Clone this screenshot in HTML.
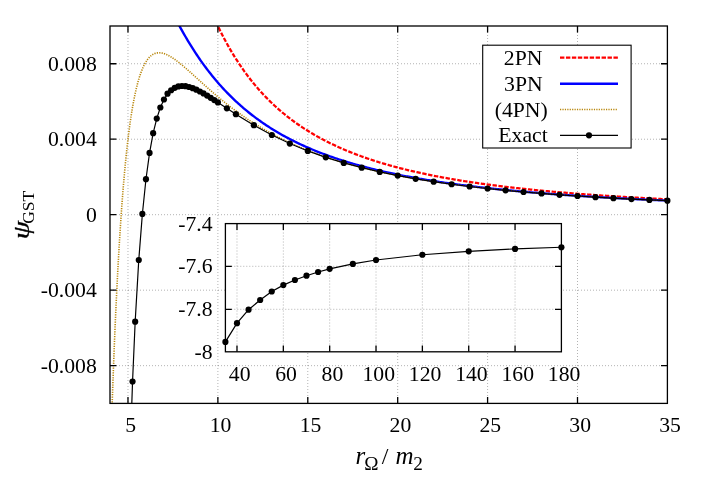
<!DOCTYPE html>
<html><head><meta charset="utf-8"><title>plot</title>
<style>html,body{margin:0;padding:0;background:#fff}body{width:706px;height:494px;overflow:hidden;position:relative;font-family:"Liberation Serif",serif}</style></head>
<body>
<svg width="706" height="494" viewBox="0 0 706 494" style="position:absolute;left:0;top:0;will-change:transform">
<defs><clipPath id="cm"><rect x="110.00" y="26.00" width="557.40" height="377.40"/></clipPath></defs>
<rect width="706" height="494" fill="#fff"/>
<path d="M127.98 26.00 V403.40 M217.88 26.00 V403.40 M307.79 26.00 V403.40 M397.69 26.00 V403.40 M487.59 26.00 V403.40 M577.50 26.00 V403.40 M110.00 365.66 H667.40 M110.00 290.18 H667.40 M110.00 214.70 H667.40 M110.00 139.22 H667.40 M110.00 63.74 H667.40" stroke="#000" stroke-width="0.36" stroke-dasharray="0.85 2.15" fill="none"/>
<rect x="482.70" y="45.20" width="148.40" height="102.80" fill="#fff"/>
<rect x="225.40" y="223.60" width="336.00" height="128.20" fill="#fff"/>
<path d="M236.99 223.60 V351.80 M283.33 223.60 V351.80 M329.68 223.60 V351.80 M376.02 223.60 V351.80 M422.37 223.60 V351.80 M468.71 223.60 V351.80 M515.06 223.60 V351.80 M225.40 266.30 H561.40 M225.40 309.30 H561.40" stroke="#000" stroke-width="0.36" stroke-dasharray="0.85 2.15" fill="none"/>
<g clip-path="url(#cm)" fill="none">
<path d="M208.89 5.61 L210.04 8.40 L211.19 11.13 L212.34 13.80 L213.49 16.43 L214.64 19.00 L215.79 21.52 L216.94 24.00 L218.09 26.42 L219.24 28.81 L220.38 31.14 L221.53 33.43 L222.68 35.68 L223.83 37.89 L224.98 40.06 L226.13 42.19 L227.28 44.28 L228.43 46.33 L229.58 48.34 L230.73 50.32 L231.88 52.26 L233.03 54.17 L234.17 56.05 L235.32 57.89 L236.47 59.70 L237.62 61.48 L238.77 63.23 L239.92 64.95 L241.07 66.64 L242.22 68.31 L243.37 69.94 L244.52 71.55 L245.67 73.13 L246.82 74.68 L247.96 76.21 L249.11 77.72 L250.26 79.20 L251.41 80.65 L252.56 82.08 L253.71 83.49 L254.86 84.88 L256.01 86.25 L257.16 87.59 L258.31 88.91 L259.46 90.22 L260.60 91.50 L261.75 92.76 L262.90 94.00 L264.05 95.23 L265.20 96.43 L266.35 97.62 L267.50 98.79 L268.65 99.94 L269.80 101.08 L270.95 102.20 L272.10 103.30 L273.25 104.39 L274.39 105.46 L275.54 106.51 L276.69 107.55 L277.84 108.58 L278.99 109.59 L280.14 110.58 L281.29 111.56 L282.44 112.53 L283.59 113.49 L284.74 114.43 L285.89 115.35 L287.03 116.27 L288.18 117.17 L289.33 118.06 L290.48 118.94 L291.63 119.81 L292.78 120.66 L293.93 121.50 L295.08 122.33 L296.23 123.15 L297.38 123.96 L298.53 124.76 L299.68 125.55 L300.82 126.33 L301.97 127.10 L303.12 127.86 L304.27 128.60 L305.42 129.34 L306.57 130.07 L307.72 130.79 L308.87 131.50 L310.02 132.20 L311.17 132.90 L312.32 133.58 L313.47 134.26 L314.61 134.92 L315.76 135.58 L316.91 136.23 L318.06 136.88 L319.21 137.51 L320.36 138.14 L321.51 138.76 L322.66 139.37 L323.81 139.97 L324.96 140.57 L326.11 141.16 L327.25 141.75 L328.40 142.32 L329.55 142.89 L330.70 143.45 L331.85 144.01 L333.00 144.56 L334.15 145.10 L335.30 145.64 L336.45 146.17 L337.60 146.70 L338.75 147.22 L339.90 147.73 L341.04 148.24 L342.19 148.74 L343.34 149.23 L344.49 149.72 L345.64 150.21 L346.79 150.69 L347.94 151.16 L349.09 151.63 L350.24 152.09 L351.39 152.55 L352.54 153.00 L353.69 153.45 L354.83 153.90 L355.98 154.33 L357.13 154.77 L358.28 155.20 L359.43 155.62 L360.58 156.04 L361.73 156.46 L362.88 156.87 L364.03 157.28 L365.18 157.68 L366.33 158.08 L367.47 158.47 L368.62 158.86 L369.77 159.25 L370.92 159.63 L372.07 160.01 L373.22 160.38 L374.37 160.76 L375.52 161.12 L376.67 161.49 L377.82 161.84 L378.97 162.20 L380.12 162.55 L381.26 162.90 L382.41 163.25 L383.56 163.59 L384.71 163.93 L385.86 164.26 L387.01 164.59 L388.16 164.92 L389.31 165.25 L390.46 165.57 L391.61 165.89 L392.76 166.20 L393.90 166.52 L395.05 166.83 L396.20 167.13 L397.35 167.44 L398.50 167.74 L399.65 168.04 L400.80 168.33 L401.95 168.62 L403.10 168.91 L404.25 169.20 L405.40 169.48 L406.55 169.77 L407.69 170.04 L408.84 170.32 L409.99 170.59 L411.14 170.87 L412.29 171.13 L413.44 171.40 L414.59 171.66 L415.74 171.93 L416.89 172.19 L418.04 172.44 L419.19 172.70 L420.34 172.95 L421.48 173.20 L422.63 173.45 L423.78 173.69 L424.93 173.93 L426.08 174.18 L427.23 174.42 L428.38 174.65 L429.53 174.89 L430.68 175.12 L431.83 175.35 L432.98 175.58 L434.12 175.81 L435.27 176.03 L436.42 176.25 L437.57 176.47 L438.72 176.69 L439.87 176.91 L441.02 177.13 L442.17 177.34 L443.32 177.55 L444.47 177.76 L445.62 177.97 L446.77 178.17 L447.91 178.38 L449.06 178.58 L450.21 178.78 L451.36 178.98 L452.51 179.18 L453.66 179.38 L454.81 179.57 L455.96 179.76 L457.11 179.96 L458.26 180.14 L459.41 180.33 L460.55 180.52 L461.70 180.70 L462.85 180.89 L464.00 181.07 L465.15 181.25 L466.30 181.43 L467.45 181.61 L468.60 181.79 L469.75 181.96 L470.90 182.13 L472.05 182.31 L473.20 182.48 L474.34 182.65 L475.49 182.81 L476.64 182.98 L477.79 183.15 L478.94 183.31 L480.09 183.47 L481.24 183.64 L482.39 183.80 L483.54 183.96 L484.69 184.11 L485.84 184.27 L486.99 184.43 L488.13 184.58 L489.28 184.73 L490.43 184.89 L491.58 185.04 L492.73 185.19 L493.88 185.34 L495.03 185.48 L496.18 185.63 L497.33 185.77 L498.48 185.92 L499.63 186.06 L500.77 186.20 L501.92 186.34 L503.07 186.48 L504.22 186.62 L505.37 186.76 L506.52 186.90 L507.67 187.03 L508.82 187.17 L509.97 187.30 L511.12 187.44 L512.27 187.57 L513.42 187.70 L514.56 187.83 L515.71 187.96 L516.86 188.09 L518.01 188.21 L519.16 188.34 L520.31 188.47 L521.46 188.59 L522.61 188.71 L523.76 188.84 L524.91 188.96 L526.06 189.08 L527.21 189.20 L528.35 189.32 L529.50 189.44 L530.65 189.56 L531.80 189.67 L532.95 189.79 L534.10 189.90 L535.25 190.02 L536.40 190.13 L537.55 190.25 L538.70 190.36 L539.85 190.47 L540.99 190.58 L542.14 190.69 L543.29 190.80 L544.44 190.91 L545.59 191.01 L546.74 191.12 L547.89 191.23 L549.04 191.33 L550.19 191.44 L551.34 191.54 L552.49 191.64 L553.64 191.75 L554.78 191.85 L555.93 191.95 L557.08 192.05 L558.23 192.15 L559.38 192.25 L560.53 192.35 L561.68 192.45 L562.83 192.54 L563.98 192.64 L565.13 192.74 L566.28 192.83 L567.42 192.93 L568.57 193.02 L569.72 193.12 L570.87 193.21 L572.02 193.30 L573.17 193.39 L574.32 193.48 L575.47 193.57 L576.62 193.66 L577.77 193.75 L578.92 193.84 L580.07 193.93 L581.21 194.02 L582.36 194.11 L583.51 194.19 L584.66 194.28 L585.81 194.37 L586.96 194.45 L588.11 194.53 L589.26 194.62 L590.41 194.70 L591.56 194.79 L592.71 194.87 L593.86 194.95 L595.00 195.03 L596.15 195.11 L597.30 195.19 L598.45 195.27 L599.60 195.35 L600.75 195.43 L601.90 195.51 L603.05 195.59 L604.20 195.66 L605.35 195.74 L606.50 195.82 L607.64 195.89 L608.79 195.97 L609.94 196.05 L611.09 196.12 L612.24 196.19 L613.39 196.27 L614.54 196.34 L615.69 196.41 L616.84 196.49 L617.99 196.56 L619.14 196.63 L620.29 196.70 L621.43 196.77 L622.58 196.84 L623.73 196.91 L624.88 196.98 L626.03 197.05 L627.18 197.12 L628.33 197.19 L629.48 197.26 L630.63 197.32 L631.78 197.39 L632.93 197.46 L634.07 197.53 L635.22 197.59 L636.37 197.66 L637.52 197.72 L638.67 197.79 L639.82 197.85 L640.97 197.92 L642.12 197.98 L643.27 198.04 L644.42 198.11 L645.57 198.17 L646.72 198.23 L647.86 198.29 L649.01 198.35 L650.16 198.42 L651.31 198.48 L652.46 198.54 L653.61 198.60 L654.76 198.66 L655.91 198.72 L657.06 198.78 L658.21 198.84 L659.36 198.89 L660.51 198.95 L661.65 199.01 L662.80 199.07 L663.95 199.13 L665.10 199.18 L666.25 199.24 L667.40 199.30" stroke="#ff0000" stroke-width="2.25" stroke-dasharray="4.4 1.54"/>
<path d="M163.94 -5.36 L165.20 -2.62 L166.47 0.09 L167.73 2.76 L168.99 5.40 L170.25 8.00 L171.51 10.57 L172.77 13.11 L174.04 15.60 L175.30 18.07 L176.56 20.49 L177.82 22.89 L179.08 25.24 L180.35 27.57 L181.61 29.86 L182.87 32.11 L184.13 34.33 L185.39 36.52 L186.65 38.67 L187.92 40.79 L189.18 42.88 L190.44 44.94 L191.70 46.97 L192.96 48.96 L194.23 50.92 L195.49 52.86 L196.75 54.76 L198.01 56.63 L199.27 58.48 L200.53 60.30 L201.80 62.08 L203.06 63.85 L204.32 65.58 L205.58 67.29 L206.84 68.97 L208.10 70.62 L209.37 72.25 L210.63 73.85 L211.89 75.43 L213.15 76.99 L214.41 78.52 L215.68 80.03 L216.94 81.51 L218.20 82.97 L219.46 84.41 L220.72 85.83 L221.98 87.23 L223.25 88.60 L224.51 89.96 L225.77 91.29 L227.03 92.61 L228.29 93.90 L229.56 95.18 L230.82 96.44 L232.08 97.67 L233.34 98.89 L234.60 100.10 L235.86 101.28 L237.13 102.45 L238.39 103.60 L239.65 104.73 L240.91 105.85 L242.17 106.95 L243.44 108.04 L244.70 109.11 L245.96 110.16 L247.22 111.20 L248.48 112.22 L249.74 113.23 L251.01 114.23 L252.27 115.21 L253.53 116.18 L254.79 117.13 L256.05 118.07 L257.32 119.00 L258.58 119.92 L259.84 120.82 L261.10 121.71 L262.36 122.59 L263.62 123.46 L264.89 124.31 L266.15 125.15 L267.41 125.99 L268.67 126.81 L269.93 127.62 L271.19 128.41 L272.46 129.20 L273.72 129.98 L274.98 130.75 L276.24 131.51 L277.50 132.25 L278.77 132.99 L280.03 133.72 L281.29 134.44 L282.55 135.15 L283.81 135.85 L285.07 136.54 L286.34 137.22 L287.60 137.90 L288.86 138.56 L290.12 139.22 L291.38 139.87 L292.65 140.51 L293.91 141.14 L295.17 141.77 L296.43 142.38 L297.69 142.99 L298.95 143.59 L300.22 144.19 L301.48 144.78 L302.74 145.36 L304.00 145.93 L305.26 146.49 L306.53 147.05 L307.79 147.61 L309.05 148.15 L310.31 148.69 L311.57 149.23 L312.83 149.75 L314.10 150.27 L315.36 150.79 L316.62 151.30 L317.88 151.80 L319.14 152.29 L320.41 152.79 L321.67 153.27 L322.93 153.75 L324.19 154.22 L325.45 154.69 L326.71 155.16 L327.98 155.62 L329.24 156.07 L330.50 156.52 L331.76 156.96 L333.02 157.40 L334.28 157.83 L335.55 158.26 L336.81 158.68 L338.07 159.10 L339.33 159.51 L340.59 159.92 L341.86 160.33 L343.12 160.73 L344.38 161.13 L345.64 161.52 L346.90 161.91 L348.16 162.29 L349.43 162.67 L350.69 163.04 L351.95 163.42 L353.21 163.78 L354.47 164.15 L355.74 164.51 L357.00 164.86 L358.26 165.22 L359.52 165.56 L360.78 165.91 L362.04 166.25 L363.31 166.59 L364.57 166.92 L365.83 167.25 L367.09 167.58 L368.35 167.91 L369.62 168.23 L370.88 168.55 L372.14 168.86 L373.40 169.17 L374.66 169.48 L375.92 169.78 L377.19 170.09 L378.45 170.39 L379.71 170.68 L380.97 170.98 L382.23 171.27 L383.50 171.55 L384.76 171.84 L386.02 172.12 L387.28 172.40 L388.54 172.68 L389.80 172.95 L391.07 173.22 L392.33 173.49 L393.59 173.75 L394.85 174.02 L396.11 174.28 L397.37 174.54 L398.64 174.79 L399.90 175.05 L401.16 175.30 L402.42 175.55 L403.68 175.79 L404.95 176.04 L406.21 176.28 L407.47 176.52 L408.73 176.76 L409.99 176.99 L411.25 177.22 L412.52 177.46 L413.78 177.68 L415.04 177.91 L416.30 178.14 L417.56 178.36 L418.83 178.58 L420.09 178.80 L421.35 179.01 L422.61 179.23 L423.87 179.44 L425.13 179.65 L426.40 179.86 L427.66 180.07 L428.92 180.27 L430.18 180.48 L431.44 180.68 L432.71 180.88 L433.97 181.08 L435.23 181.27 L436.49 181.47 L437.75 181.66 L439.01 181.85 L440.28 182.04 L441.54 182.23 L442.80 182.42 L444.06 182.60 L445.32 182.79 L446.59 182.97 L447.85 183.15 L449.11 183.33 L450.37 183.51 L451.63 183.68 L452.89 183.86 L454.16 184.03 L455.42 184.20 L456.68 184.37 L457.94 184.54 L459.20 184.71 L460.46 184.87 L461.73 185.04 L462.99 185.20 L464.25 185.36 L465.51 185.52 L466.77 185.68 L468.04 185.84 L469.30 186.00 L470.56 186.15 L471.82 186.31 L473.08 186.46 L474.34 186.61 L475.61 186.76 L476.87 186.91 L478.13 187.06 L479.39 187.20 L480.65 187.35 L481.92 187.49 L483.18 187.64 L484.44 187.78 L485.70 187.92 L486.96 188.06 L488.22 188.20 L489.49 188.34 L490.75 188.48 L492.01 188.61 L493.27 188.75 L494.53 188.88 L495.80 189.01 L497.06 189.14 L498.32 189.27 L499.58 189.40 L500.84 189.53 L502.10 189.66 L503.37 189.79 L504.63 189.91 L505.89 190.04 L507.15 190.16 L508.41 190.28 L509.68 190.41 L510.94 190.53 L512.20 190.65 L513.46 190.77 L514.72 190.89 L515.98 191.00 L517.25 191.12 L518.51 191.24 L519.77 191.35 L521.03 191.47 L522.29 191.58 L523.55 191.69 L524.82 191.80 L526.08 191.91 L527.34 192.02 L528.60 192.13 L529.86 192.24 L531.13 192.35 L532.39 192.46 L533.65 192.56 L534.91 192.67 L536.17 192.77 L537.43 192.88 L538.70 192.98 L539.96 193.08 L541.22 193.18 L542.48 193.29 L543.74 193.39 L545.01 193.49 L546.27 193.58 L547.53 193.68 L548.79 193.78 L550.05 193.88 L551.31 193.97 L552.58 194.07 L553.84 194.16 L555.10 194.26 L556.36 194.35 L557.62 194.45 L558.89 194.54 L560.15 194.63 L561.41 194.72 L562.67 194.81 L563.93 194.90 L565.19 194.99 L566.46 195.08 L567.72 195.17 L568.98 195.25 L570.24 195.34 L571.50 195.43 L572.77 195.51 L574.03 195.60 L575.29 195.68 L576.55 195.77 L577.81 195.85 L579.07 195.93 L580.34 196.02 L581.60 196.10 L582.86 196.18 L584.12 196.26 L585.38 196.34 L586.64 196.42 L587.91 196.50 L589.17 196.58 L590.43 196.66 L591.69 196.73 L592.95 196.81 L594.22 196.89 L595.48 196.96 L596.74 197.04 L598.00 197.12 L599.26 197.19 L600.52 197.26 L601.79 197.34 L603.05 197.41 L604.31 197.48 L605.57 197.56 L606.83 197.63 L608.10 197.70 L609.36 197.77 L610.62 197.84 L611.88 197.91 L613.14 197.98 L614.40 198.05 L615.67 198.12 L616.93 198.19 L618.19 198.26 L619.45 198.32 L620.71 198.39 L621.98 198.46 L623.24 198.53 L624.50 198.59 L625.76 198.66 L627.02 198.72 L628.28 198.79 L629.55 198.85 L630.81 198.92 L632.07 198.98 L633.33 199.04 L634.59 199.11 L635.86 199.17 L637.12 199.23 L638.38 199.29 L639.64 199.35 L640.90 199.41 L642.16 199.47 L643.43 199.54 L644.69 199.60 L645.95 199.65 L647.21 199.71 L648.47 199.77 L649.73 199.83 L651.00 199.89 L652.26 199.95 L653.52 200.00 L654.78 200.06 L656.04 200.12 L657.31 200.18 L658.57 200.23 L659.83 200.29 L661.09 200.34 L662.35 200.40 L663.61 200.45 L664.88 200.51 L666.14 200.56 L667.40 200.62" stroke="#0000ff" stroke-width="2.35"/>
<path d="M110.00 472.69 L110.70 449.05 L111.40 426.71 L112.09 405.58 L112.79 385.61 L113.49 366.71 L114.19 348.84 L114.88 331.93 L115.58 315.92 L116.28 300.78 L116.98 286.44 L117.67 272.88 L118.37 260.03 L119.07 247.87 L119.77 236.36 L120.46 225.46 L121.16 215.15 L121.86 205.38 L122.56 196.13 L123.25 187.37 L123.95 179.09 L124.65 171.24 L125.35 163.82 L126.05 156.79 L126.74 150.14 L127.44 143.85 L128.14 137.91 L128.84 132.28 L129.53 126.96 L130.23 121.94 L130.93 117.19 L131.63 112.71 L132.32 108.47 L133.02 104.48 L133.72 100.71 L134.42 97.15 L135.11 93.80 L135.81 90.65 L136.51 87.68 L137.21 84.89 L137.90 82.27 L138.60 79.80 L139.30 77.49 L140.00 75.32 L140.70 73.29 L141.39 71.40 L142.09 69.63 L142.79 67.97 L143.49 66.44 L144.18 65.01 L144.88 63.68 L145.58 62.45 L146.28 61.32 L146.97 60.27 L147.67 59.31 L148.37 58.43 L149.07 57.63 L149.76 56.90 L150.46 56.25 L151.16 55.66 L151.86 55.13 L152.55 54.67 L153.25 54.26 L153.95 53.91 L154.65 53.61 L155.35 53.36 L156.04 53.16 L156.74 53.00 L157.44 52.89 L158.14 52.82 L158.83 52.78 L159.53 52.79 L160.23 52.83 L160.93 52.91 L161.62 53.01 L162.32 53.15 L163.02 53.32 L163.72 53.52 L164.41 53.74 L165.11 53.99 L165.81 54.26 L166.51 54.55 L167.21 54.87 L167.90 55.20 L168.60 55.56 L169.30 55.94 L170.00 56.33 L170.69 56.74 L171.39 57.16 L172.09 57.60 L172.79 58.05 L173.48 58.52 L174.18 59.00 L174.88 59.49 L175.58 59.99 L176.27 60.50 L176.97 61.03 L177.67 61.56 L178.37 62.10 L179.06 62.65 L179.76 63.21 L180.46 63.77 L181.16 64.34 L181.86 64.92 L182.55 65.50 L183.25 66.09 L183.95 66.68 L184.65 67.28 L185.34 67.89 L186.04 68.49 L186.74 69.10 L187.44 69.72 L188.13 70.33 L188.83 70.95 L189.53 71.57 L190.23 72.20 L190.92 72.83 L191.62 73.45 L192.32 74.08 L193.02 74.71 L193.71 75.34 L194.41 75.98 L195.11 76.61 L195.81 77.24 L196.51 77.88 L197.20 78.51 L197.90 79.14 L198.60 79.78 L199.30 80.41 L199.99 81.04 L200.69 81.68 L201.39 82.31 L202.09 82.94 L202.78 83.57 L203.48 84.19 L204.18 84.82 L204.88 85.45 L205.57 86.07 L206.27 86.69 L206.97 87.31 L207.67 87.93 L208.36 88.55 L209.06 89.17 L209.76 89.78 L210.46 90.39 L211.16 91.00 L211.85 91.61 L212.55 92.21 L213.25 92.82 L213.95 93.42 L214.64 94.01 L215.34 94.61 L216.04 95.20 L216.74 95.80 L217.43 96.38 L218.13 96.97 L218.83 97.55 L219.53 98.13 L220.22 98.71 L220.92 99.29 L221.62 99.86 L222.32 100.43 L223.01 101.00 L223.71 101.56 L224.41 102.13 L225.11 102.69 L225.81 103.24 L226.50 103.80 L227.20 104.35 L227.90 104.89 L228.60 105.44 L229.29 105.98 L229.99 106.52 L230.69 107.06 L231.39 107.59 L232.08 108.12 L232.78 108.65 L233.48 109.17 L234.18 109.70 L234.87 110.22 L235.57 110.73 L236.27 111.25 L236.97 111.76 L237.66 112.26 L238.36 112.77 L239.06 113.27 L239.76 113.77 L240.46 114.27 L241.15 114.76 L241.85 115.25 L242.55 115.74 L243.25 116.22 L243.94 116.70 L244.64 117.18 L245.34 117.66 L246.04 118.13 L246.73 118.60 L247.43 119.07 L248.13 119.54 L248.83 120.00 L249.52 120.46 L250.22 120.92 L250.92 121.37 L251.62 121.82 L252.31 122.27 L253.01 122.72 L253.71 123.16 L254.41 123.60 L255.11 124.04 L255.80 124.47 L256.50 124.90 L257.20 125.33 L257.90 125.76 L258.59 126.19 L259.29 126.61 L259.99 127.03 L260.69 127.44 L261.38 127.86 L262.08 128.27 L262.78 128.68 L263.48 129.09 L264.17 129.49 L264.87 129.89 L265.57 130.29 L266.27 130.69 L266.96 131.08 L267.66 131.48 L268.36 131.87 L269.06 132.25 L269.76 132.64 L270.45 133.02 L271.15 133.40 L271.85 133.78 L272.55 134.15 L273.24 134.53 L273.94 134.90 L274.64 135.27 L275.34 135.63 L276.03 136.00 L276.73 136.36 L277.43 136.72 L278.13 137.07 L278.82 137.43 L279.52 137.78 L280.22 138.13 L280.92 138.48 L281.62 138.83 L282.31 139.17 L283.01 139.51 L283.71 139.85 L284.41 140.19 L285.10 140.53 L285.80 140.86 L286.50 141.19 L287.20 141.52 L287.89 141.85 L288.59 142.18 L289.29 142.50 L289.99 142.82 L290.68 143.14 L291.38 143.46 L292.08 143.78 L292.78 144.09 L293.47 144.40 L294.17 144.71 L294.87 145.02 L295.57 145.33 L296.27 145.63 L296.96 145.93 L297.66 146.23 L298.36 146.53 L299.06 146.83 L299.75 147.13 L300.45 147.42 L301.15 147.71 L301.85 148.00 L302.54 148.29 L303.24 148.58 L303.94 148.86 L304.64 149.14 L305.33 149.43 L306.03 149.71 L306.73 149.98 L307.43 150.26 L308.12 150.53 L308.82 150.81 L309.52 151.08 L310.22 151.35 L310.92 151.62 L311.61 151.88 L312.31 152.15 L313.01 152.41 L313.71 152.68 L314.40 152.94 L315.10 153.19 L315.80 153.45 L316.50 153.71 L317.19 153.96 L317.89 154.22 L318.59 154.47 L319.29 154.72 L319.98 154.96 L320.68 155.21 L321.38 155.46 L322.08 155.70 L322.77 155.94 L323.47 156.19 L324.17 156.43 L324.87 156.66 L325.57 156.90 L326.26 157.14 L326.96 157.37 L327.66 157.60 L328.36 157.84 L329.05 158.07 L329.75 158.29 L330.45 158.52 L331.15 158.75 L331.84 158.97 L332.54 159.20 L333.24 159.42 L333.94 159.64 L334.63 159.86 L335.33 160.08 L336.03 160.30 L336.73 160.51 L337.42 160.73 L338.12 160.94 L338.82 161.15 L339.52 161.37 L340.22 161.58 L340.91 161.79 L341.61 161.99 L342.31 162.20 L343.01 162.41 L343.70 162.61 L344.40 162.81 L345.10 163.01 L345.80 163.22 L346.49 163.42 L347.19 163.61 L347.89 163.81 L348.59 164.01 L349.28 164.20 L349.98 164.40 L350.68 164.59 L351.38 164.78 L352.07 164.97 L352.77 165.16 L353.47 165.35 L354.17 165.54 L354.87 165.73 L355.56 165.91 L356.26 166.10 L356.96 166.28 L357.66 166.47 L358.35 166.65 L359.05 166.83 L359.75 167.01 L360.45 167.19 L361.14 167.37 L361.84 167.54 L362.54 167.72 L363.24 167.89 L363.93 168.07 L364.63 168.24 L365.33 168.41 L366.03 168.58 L366.72 168.76 L367.42 168.92 L368.12 169.09 L368.82 169.26 L369.52 169.43 L370.21 169.59 L370.91 169.76 L371.61 169.92 L372.31 170.09 L373.00 170.25 L373.70 170.41 L374.40 170.57 L375.10 170.73 L375.79 170.89 L376.49 171.05 L377.19 171.21 L377.89 171.36 L378.58 171.52 L379.28 171.67 L379.98 171.83 L380.68 171.98 L381.37 172.13 L382.07 172.29 L382.77 172.44 L383.47 172.59 L384.17 172.74 L384.86 172.88 L385.56 173.03 L386.26 173.18 L386.96 173.33 L387.65 173.47 L388.35 173.62 L389.05 173.76 L389.75 173.90 L390.44 174.05 L391.14 174.19 L391.84 174.33 L392.54 174.47 L393.23 174.61 L393.93 174.75 L394.63 174.89 L395.33 175.02 L396.03 175.16 L396.72 175.30 L397.42 175.43 L398.12 175.57 L398.82 175.70 L399.51 175.84 L400.21 175.97 L400.91 176.10 L401.61 176.23 L402.30 176.36 L403.00 176.49 L403.70 176.62 L404.40 176.75 L405.09 176.88 L405.79 177.01 L406.49 177.14 L407.19 177.26 L407.88 177.39 L408.58 177.51 L409.28 177.64 L409.98 177.76 L410.68 177.89 L411.37 178.01 L412.07 178.13 L412.77 178.25 L413.47 178.37 L414.16 178.49 L414.86 178.61 L415.56 178.73 L416.26 178.85 L416.95 178.97 L417.65 179.09 L418.35 179.20 L419.05 179.32 L419.74 179.44 L420.44 179.55 L421.14 179.67 L421.84 179.78 L422.53 179.89 L423.23 180.01 L423.93 180.12 L424.63 180.23 L425.33 180.34 L426.02 180.45 L426.72 180.56 L427.42 180.67 L428.12 180.78 L428.81 180.89 L429.51 181.00 L430.21 181.11 L430.91 181.22 L431.60 181.32 L432.30 181.43 L433.00 181.53 L433.70 181.64 L434.39 181.74 L435.09 181.85 L435.79 181.95 L436.49 182.06 L437.18 182.16 L437.88 182.26 L438.58 182.36 L439.28 182.47 L439.98 182.57 L440.67 182.67 L441.37 182.77 L442.07 182.87 L442.77 182.97 L443.46 183.06 L444.16 183.16 L444.86 183.26 L445.56 183.36 L446.25 183.45 L446.95 183.55 L447.65 183.65 L448.35 183.74 L449.04 183.84 L449.74 183.93 L450.44 184.03 L451.14 184.12 L451.83 184.21 L452.53 184.31 L453.23 184.40 L453.93 184.49 L454.63 184.58 L455.32 184.68 L456.02 184.77 L456.72 184.86 L457.42 184.95 L458.11 185.04 L458.81 185.13 L459.51 185.22 L460.21 185.30 L460.90 185.39 L461.60 185.48 L462.30 185.57 L463.00 185.65 L463.69 185.74 L464.39 185.83 L465.09 185.91 L465.79 186.00 L466.48 186.08 L467.18 186.17 L467.88 186.25 L468.58 186.34 L469.28 186.42 L469.97 186.50 L470.67 186.59 L471.37 186.67 L472.07 186.75 L472.76 186.83 L473.46 186.92 L474.16 187.00 L474.86 187.08 L475.55 187.16 L476.25 187.24 L476.95 187.32 L477.65 187.40 L478.34 187.48 L479.04 187.55 L479.74 187.63 L480.44 187.71 L481.13 187.79 L481.83 187.87 L482.53 187.94 L483.23 188.02 L483.93 188.10 L484.62 188.17 L485.32 188.25 L486.02 188.32 L486.72 188.40 L487.41 188.47 L488.11 188.55 L488.81 188.62 L489.51 188.70 L490.20 188.77 L490.90 188.84 L491.60 188.92 L492.30 188.99 L492.99 189.06 L493.69 189.13 L494.39 189.21 L495.09 189.28 L495.78 189.35 L496.48 189.42 L497.18 189.49 L497.88 189.56 L498.58 189.63 L499.27 189.70 L499.97 189.77 L500.67 189.84 L501.37 189.91 L502.06 189.98 L502.76 190.04 L503.46 190.11 L504.16 190.18 L504.85 190.25 L505.55 190.31 L506.25 190.38 L506.95 190.45 L507.64 190.51 L508.34 190.58 L509.04 190.65 L509.74 190.71 L510.44 190.78 L511.13 190.84 L511.83 190.91 L512.53 190.97 L513.23 191.04 L513.92 191.10 L514.62 191.16 L515.32 191.23 L516.02 191.29 L516.71 191.35 L517.41 191.42 L518.11 191.48 L518.81 191.54 L519.50 191.60 L520.20 191.66 L520.90 191.73 L521.60 191.79 L522.29 191.85 L522.99 191.91 L523.69 191.97 L524.39 192.03 L525.09 192.09 L525.78 192.15 L526.48 192.21 L527.18 192.27 L527.88 192.33 L528.57 192.39 L529.27 192.45 L529.97 192.50 L530.67 192.56 L531.36 192.62 L532.06 192.68 L532.76 192.74 L533.46 192.79 L534.15 192.85 L534.85 192.91 L535.55 192.96 L536.25 193.02 L536.94 193.08 L537.64 193.13 L538.34 193.19 L539.04 193.24 L539.74 193.30 L540.43 193.35 L541.13 193.41 L541.83 193.46 L542.53 193.52 L543.22 193.57 L543.92 193.63 L544.62 193.68 L545.32 193.73 L546.01 193.79 L546.71 193.84 L547.41 193.89 L548.11 193.95 L548.80 194.00 L549.50 194.05 L550.20 194.10 L550.90 194.16 L551.59 194.21 L552.29 194.26 L552.99 194.31 L553.69 194.36 L554.39 194.41 L555.08 194.46 L555.78 194.52 L556.48 194.57 L557.18 194.62 L557.87 194.67 L558.57 194.72 L559.27 194.77 L559.97 194.82 L560.66 194.87 L561.36 194.91 L562.06 194.96 L562.76 195.01 L563.45 195.06 L564.15 195.11 L564.85 195.16 L565.55 195.21 L566.24 195.25 L566.94 195.30 L567.64 195.35 L568.34 195.40 L569.04 195.44 L569.73 195.49 L570.43 195.54 L571.13 195.59 L571.83 195.63 L572.52 195.68 L573.22 195.72 L573.92 195.77 L574.62 195.82 L575.31 195.86 L576.01 195.91 L576.71 195.95 L577.41 196.00 L578.10 196.04 L578.80 196.09 L579.50 196.13 L580.20 196.18 L580.89 196.22 L581.59 196.27 L582.29 196.31 L582.99 196.36 L583.69 196.40 L584.38 196.44 L585.08 196.49 L585.78 196.53 L586.48 196.57 L587.17 196.62 L587.87 196.66 L588.57 196.70 L589.27 196.74 L589.96 196.79 L590.66 196.83 L591.36 196.87 L592.06 196.91 L592.75 196.96 L593.45 197.00 L594.15 197.04 L594.85 197.08 L595.54 197.12 L596.24 197.16 L596.94 197.20 L597.64 197.24 L598.34 197.29 L599.03 197.33 L599.73 197.37 L600.43 197.41 L601.13 197.45 L601.82 197.49 L602.52 197.53 L603.22 197.57 L603.92 197.61 L604.61 197.65 L605.31 197.69 L606.01 197.72 L606.71 197.76 L607.40 197.80 L608.10 197.84 L608.80 197.88 L609.50 197.92 L610.19 197.96 L610.89 198.00 L611.59 198.03 L612.29 198.07 L612.99 198.11 L613.68 198.15 L614.38 198.18 L615.08 198.22 L615.78 198.26 L616.47 198.30 L617.17 198.33 L617.87 198.37 L618.57 198.41 L619.26 198.44 L619.96 198.48 L620.66 198.52 L621.36 198.55 L622.05 198.59 L622.75 198.63 L623.45 198.66 L624.15 198.70 L624.85 198.73 L625.54 198.77 L626.24 198.81 L626.94 198.84 L627.64 198.88 L628.33 198.91 L629.03 198.95 L629.73 198.98 L630.43 199.02 L631.12 199.05 L631.82 199.09 L632.52 199.12 L633.22 199.15 L633.91 199.19 L634.61 199.22 L635.31 199.26 L636.01 199.29 L636.70 199.32 L637.40 199.36 L638.10 199.39 L638.80 199.43 L639.50 199.46 L640.19 199.49 L640.89 199.53 L641.59 199.56 L642.29 199.59 L642.98 199.62 L643.68 199.66 L644.38 199.69 L645.08 199.72 L645.77 199.75 L646.47 199.79 L647.17 199.82 L647.87 199.85 L648.56 199.88 L649.26 199.92 L649.96 199.95 L650.66 199.98 L651.35 200.01 L652.05 200.04 L652.75 200.07 L653.45 200.10 L654.15 200.14 L654.84 200.17 L655.54 200.20 L656.24 200.23 L656.94 200.26 L657.63 200.29 L658.33 200.32 L659.03 200.35 L659.73 200.38 L660.42 200.41 L661.12 200.44 L661.82 200.47 L662.52 200.50 L663.21 200.53 L663.91 200.56 L664.61 200.59 L665.31 200.62 L666.00 200.65 L666.70 200.68 L667.40 200.71" stroke="#b8860b" stroke-width="1.6" stroke-dasharray="1.2 1.22"/>
<path d="M127.98 517.00 L132.55 381.50 L135.17 321.70 L138.77 260.00 L142.37 213.95 L145.96 179.20 L149.56 152.90 L153.15 133.20 L156.75 118.60 L160.35 107.50 L163.94 99.50 L167.54 93.70 L171.13 90.25 L174.73 87.79 L178.33 86.45 L181.92 85.99 L185.52 86.22 L189.11 86.99 L192.71 88.19 L196.31 89.72 L199.90 91.50 L203.50 93.47 L207.10 95.59 L210.69 97.82 L214.29 100.11 L217.88 102.45 L226.87 108.36 L235.86 114.20 L253.85 125.20 L271.83 134.99 L289.81 143.53 L307.79 150.93 L325.77 157.33 L343.75 162.88 L361.73 167.70 L379.71 171.90 L397.69 175.59 L415.67 178.83 L433.65 181.69 L451.63 184.23 L469.61 186.50 L487.59 188.52 L505.57 190.34 L523.55 191.98 L541.54 193.45 L559.52 194.80 L577.50 196.01 L595.48 197.13 L613.46 198.14 L631.44 199.07 L649.42 199.93 L667.40 200.71" stroke="#000" stroke-width="1.2"/>
</g>
<g fill="#000">
<circle cx="132.55" cy="381.50" r="3.1"/>
<circle cx="135.17" cy="321.70" r="3.1"/>
<circle cx="138.77" cy="260.00" r="3.1"/>
<circle cx="142.37" cy="213.95" r="3.1"/>
<circle cx="145.96" cy="179.20" r="3.1"/>
<circle cx="149.56" cy="152.90" r="3.1"/>
<circle cx="153.15" cy="133.20" r="3.1"/>
<circle cx="156.75" cy="118.60" r="3.1"/>
<circle cx="160.35" cy="107.50" r="3.1"/>
<circle cx="163.94" cy="99.50" r="3.1"/>
<circle cx="167.54" cy="93.70" r="3.1"/>
<circle cx="171.13" cy="90.25" r="3.1"/>
<circle cx="174.73" cy="87.79" r="3.1"/>
<circle cx="178.33" cy="86.45" r="3.1"/>
<circle cx="181.92" cy="85.99" r="3.1"/>
<circle cx="185.52" cy="86.22" r="3.1"/>
<circle cx="189.11" cy="86.99" r="3.1"/>
<circle cx="192.71" cy="88.19" r="3.1"/>
<circle cx="196.31" cy="89.72" r="3.1"/>
<circle cx="199.90" cy="91.50" r="3.1"/>
<circle cx="203.50" cy="93.47" r="3.1"/>
<circle cx="207.10" cy="95.59" r="3.1"/>
<circle cx="210.69" cy="97.82" r="3.1"/>
<circle cx="214.29" cy="100.11" r="3.1"/>
<circle cx="217.88" cy="102.45" r="3.1"/>
<circle cx="226.87" cy="108.36" r="3.1"/>
<circle cx="235.86" cy="114.20" r="3.1"/>
<circle cx="253.85" cy="125.20" r="3.1"/>
<circle cx="271.83" cy="134.99" r="3.1"/>
<circle cx="289.81" cy="143.53" r="3.1"/>
<circle cx="307.79" cy="150.93" r="3.1"/>
<circle cx="325.77" cy="157.33" r="3.1"/>
<circle cx="343.75" cy="162.88" r="3.1"/>
<circle cx="361.73" cy="167.70" r="3.1"/>
<circle cx="379.71" cy="171.90" r="3.1"/>
<circle cx="397.69" cy="175.59" r="3.1"/>
<circle cx="415.67" cy="178.83" r="3.1"/>
<circle cx="433.65" cy="181.69" r="3.1"/>
<circle cx="451.63" cy="184.23" r="3.1"/>
<circle cx="469.61" cy="186.50" r="3.1"/>
<circle cx="487.59" cy="188.52" r="3.1"/>
<circle cx="505.57" cy="190.34" r="3.1"/>
<circle cx="523.55" cy="191.98" r="3.1"/>
<circle cx="541.54" cy="193.45" r="3.1"/>
<circle cx="559.52" cy="194.80" r="3.1"/>
<circle cx="577.50" cy="196.01" r="3.1"/>
<circle cx="595.48" cy="197.13" r="3.1"/>
<circle cx="613.46" cy="198.14" r="3.1"/>
<circle cx="631.44" cy="199.07" r="3.1"/>
<circle cx="649.42" cy="199.93" r="3.1"/>
<circle cx="667.40" cy="200.71" r="3.1"/>
</g>
<rect x="110.00" y="26.00" width="557.40" height="377.40" fill="none" stroke="#000" stroke-width="1.3"/>
<path d="M127.98 403.40 v-6.40 M127.98 26.00 v6.40 M217.88 403.40 v-6.40 M217.88 26.00 v6.40 M307.79 403.40 v-6.40 M307.79 26.00 v6.40 M397.69 403.40 v-6.40 M397.69 26.00 v6.40 M487.59 403.40 v-6.40 M487.59 26.00 v6.40 M577.50 403.40 v-6.40 M577.50 26.00 v6.40 M110.00 365.66 h6.40 M667.40 365.66 h-6.40 M110.00 290.18 h6.40 M667.40 290.18 h-6.40 M110.00 214.70 h6.40 M667.40 214.70 h-6.40 M110.00 139.22 h6.40 M667.40 139.22 h-6.40 M110.00 63.74 h6.40 M667.40 63.74 h-6.40" stroke="#000" stroke-width="1.3" fill="none"/>
<path d="M225.40 341.90 L236.99 323.20 L248.57 309.70 L260.16 300.00 L271.74 291.50 L283.33 285.10 L294.92 280.00 L306.50 275.70 L318.09 272.00 L329.68 268.85 L352.85 263.90 L376.02 260.00 L422.37 254.75 L468.71 251.30 L515.06 248.90 L561.40 247.25" stroke="#000" stroke-width="1.2" fill="none"/>
<g fill="#000">
<circle cx="225.40" cy="341.90" r="3.1"/>
<circle cx="236.99" cy="323.20" r="3.1"/>
<circle cx="248.57" cy="309.70" r="3.1"/>
<circle cx="260.16" cy="300.00" r="3.1"/>
<circle cx="271.74" cy="291.50" r="3.1"/>
<circle cx="283.33" cy="285.10" r="3.1"/>
<circle cx="294.92" cy="280.00" r="3.1"/>
<circle cx="306.50" cy="275.70" r="3.1"/>
<circle cx="318.09" cy="272.00" r="3.1"/>
<circle cx="329.68" cy="268.85" r="3.1"/>
<circle cx="352.85" cy="263.90" r="3.1"/>
<circle cx="376.02" cy="260.00" r="3.1"/>
<circle cx="422.37" cy="254.75" r="3.1"/>
<circle cx="468.71" cy="251.30" r="3.1"/>
<circle cx="515.06" cy="248.90" r="3.1"/>
<circle cx="561.40" cy="247.25" r="3.1"/>
</g>
<rect x="225.40" y="223.60" width="336.00" height="128.20" fill="none" stroke="#000" stroke-width="1.3"/>
<path d="M236.99 351.80 v-6.40 M236.99 223.60 v6.40 M283.33 351.80 v-6.40 M283.33 223.60 v6.40 M329.68 351.80 v-6.40 M329.68 223.60 v6.40 M376.02 351.80 v-6.40 M376.02 223.60 v6.40 M422.37 351.80 v-6.40 M422.37 223.60 v6.40 M468.71 351.80 v-6.40 M468.71 223.60 v6.40 M515.06 351.80 v-6.40 M515.06 223.60 v6.40 M225.40 266.30 h6.40 M561.40 266.30 h-6.40 M225.40 309.30 h6.40 M561.40 309.30 h-6.40" stroke="#000" stroke-width="1.3" fill="none"/>
<rect x="482.70" y="45.20" width="148.40" height="102.80" fill="none" stroke="#000" stroke-width="1.1"/>
<path d="M560.0 57.7 H618.0" stroke="#ff0000" stroke-width="2.25" stroke-dasharray="4.4 1.54"/>
<path d="M560.0 83.7 H618.0" stroke="#0000ff" stroke-width="2.35"/>
<path d="M560.0 109.5 H618.0" stroke="#b8860b" stroke-width="1.6" stroke-dasharray="1.2 1.22"/>
<path d="M560.0 135.3 H618.0" stroke="#000" stroke-width="1.2"/>
<circle cx="589.0" cy="135.3" r="3.1" fill="#000"/>
<g font-family="'Liberation Serif', serif" fill="#000">
<text x="96.80" y="372.66" text-anchor="end" font-size="21.7" >-0.008</text>
<text x="96.80" y="297.18" text-anchor="end" font-size="21.7" >-0.004</text>
<text x="96.80" y="221.70" text-anchor="end" font-size="21.7" >0</text>
<text x="96.80" y="146.22" text-anchor="end" font-size="21.7" >0.004</text>
<text x="96.80" y="70.74" text-anchor="end" font-size="21.7" >0.008</text>
<text x="130.68" y="432.20" text-anchor="middle" font-size="21.7" >5</text>
<text x="220.58" y="432.20" text-anchor="middle" font-size="21.7" >10</text>
<text x="310.49" y="432.20" text-anchor="middle" font-size="21.7" >15</text>
<text x="400.39" y="432.20" text-anchor="middle" font-size="21.7" >20</text>
<text x="490.29" y="432.20" text-anchor="middle" font-size="21.7" >25</text>
<text x="580.20" y="432.20" text-anchor="middle" font-size="21.7" >30</text>
<text x="670.10" y="432.20" text-anchor="middle" font-size="21.7" >35</text>
<text x="212.50" y="230.60" text-anchor="end" font-size="21.7" >-7.4</text>
<text x="212.50" y="273.30" text-anchor="end" font-size="21.7" >-7.6</text>
<text x="212.50" y="316.30" text-anchor="end" font-size="21.7" >-7.8</text>
<text x="212.50" y="358.60" text-anchor="end" font-size="21.7" >-8</text>
<text x="239.69" y="380.50" text-anchor="middle" font-size="21.7" >40</text>
<text x="286.03" y="380.50" text-anchor="middle" font-size="21.7" >60</text>
<text x="332.38" y="380.50" text-anchor="middle" font-size="21.7" >80</text>
<text x="378.72" y="380.50" text-anchor="middle" font-size="21.7" >100</text>
<text x="425.07" y="380.50" text-anchor="middle" font-size="21.7" >120</text>
<text x="471.41" y="380.50" text-anchor="middle" font-size="21.7" >140</text>
<text x="517.76" y="380.50" text-anchor="middle" font-size="21.7" >160</text>
<text x="564.10" y="380.50" text-anchor="middle" font-size="21.7" >180</text>
<text x="542.40" y="64.70" text-anchor="end" font-size="21.7" >2PN</text>
<text x="542.70" y="90.65" text-anchor="end" font-size="21.7" >3PN</text>
<text x="547.70" y="116.55" text-anchor="end" font-size="21.7" >(4PN)</text>
<text x="547.70" y="142.30" text-anchor="end" font-size="21.7" >Exact</text>
<text x="355.6" y="463.6" font-size="25" font-style="italic">r</text>
<text x="364.3" y="469.7" font-size="19.2">Ω</text>
<text x="381.8" y="463.6" font-size="24">/</text>
<text x="395.5" y="463.6" font-size="25" font-style="italic">m</text>
<text x="413.2" y="469.7" font-size="19.2">2</text>
<text transform="translate(28.5,239.3) rotate(-90) scale(1.05,0.82)" font-size="28" font-style="italic" stroke="#000" stroke-width="0.35">ψ</text>
<text transform="translate(34.4,223.8) rotate(-90)" font-size="17.5">GST</text>
</g>
</svg>
</body></html>
